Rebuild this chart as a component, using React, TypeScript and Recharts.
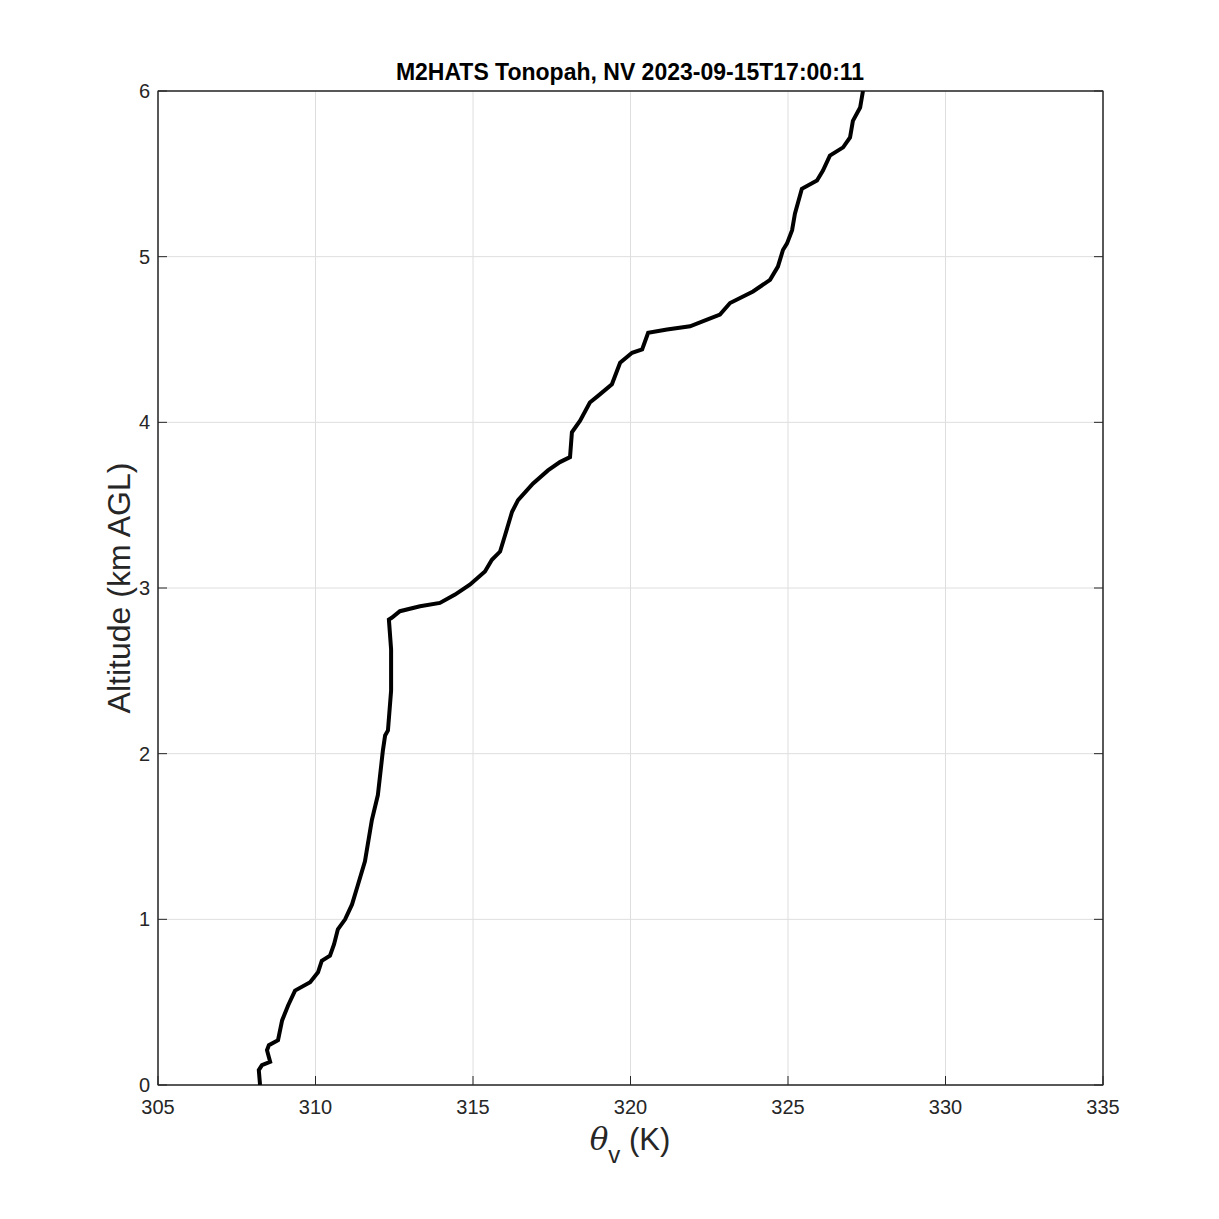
import React from "react";
import {
  ScatterChart,
  Scatter,
  XAxis,
  YAxis,
  CartesianGrid,
  Customized,
} from "recharts";

const thetaV = [
  308.24, 308.2, 308.3, 308.56, 308.46, 308.52, 308.81, 308.94, 309.13, 309.35,
  309.83, 310.08, 310.2, 310.46, 310.59, 310.71, 310.94, 311.16, 311.35, 311.57,
  311.79, 311.98, 312.14, 312.21, 312.3, 312.4, 312.4, 312.33, 312.42, 312.68,
  313.32, 313.95, 314.43, 314.9, 315.38, 315.6, 315.86, 316.02, 316.24, 316.43,
  316.9, 317.38, 317.76, 318.08, 318.14, 318.4, 318.71, 318.97, 319.41, 319.67,
  320.05, 320.37, 320.56, 321.16, 321.89, 322.43, 322.84, 323.16, 323.89, 324.43,
  324.68, 324.84, 324.97, 325.13, 325.22, 325.44, 325.92, 326.11, 326.33, 326.75,
  326.97, 327.06, 327.29, 327.38,
];
const altitudeKm = [
  0.0, 0.09, 0.12, 0.14, 0.21, 0.24, 0.27, 0.39, 0.48, 0.57,
  0.62, 0.68, 0.75, 0.78, 0.85, 0.94, 1.0, 1.09, 1.21, 1.35,
  1.6, 1.75, 2.02, 2.11, 2.14, 2.38, 2.63, 2.81, 2.82, 2.86,
  2.89, 2.91, 2.96, 3.02, 3.1, 3.17, 3.22, 3.32, 3.46, 3.53,
  3.63, 3.71, 3.76, 3.79, 3.94, 4.01, 4.12, 4.16, 4.23, 4.36,
  4.42, 4.44, 4.54, 4.56, 4.58, 4.62, 4.65, 4.72, 4.79, 4.86,
  4.94, 5.04, 5.08, 5.16, 5.26, 5.41, 5.46, 5.52, 5.61, 5.66,
  5.72, 5.82, 5.9, 6.0,
];
const xTicks = [305, 310, 315, 320, 325, 330, 335];
const yTicks = [0, 1, 2, 3, 4, 5, 6];
const titleText = "M2HATS Tonopah, NV 2023-09-15T17:00:11";
const yLabelText = "Altitude (km AGL)";

const data = thetaV.map((t, i) => ({ theta: t, alt: altitudeKm[i] }));

const FONT = "'Liberation Sans', Arial, Helvetica, sans-serif";
const AX = "#262626";
const TICK_LEN = 9;

const BottomTick = (props: any) => {
  const { x, y, payload } = props;
  return (
    <g>
      <line x1={x} y1={y} x2={x} y2={y - TICK_LEN} stroke={AX} strokeWidth={1} />
      <text x={x} y={y + 29} textAnchor="middle" fill={AX} fontSize={20} fontFamily={FONT}>
        {payload.value}
      </text>
    </g>
  );
};
const TopTick = (props: any) => {
  const { x, y } = props;
  return <line x1={x} y1={y} x2={x} y2={y + TICK_LEN} stroke={AX} strokeWidth={1} />;
};
const LeftTick = (props: any) => {
  const { x, y, payload } = props;
  return (
    <g>
      <line x1={x} y1={y} x2={x + TICK_LEN} y2={y} stroke={AX} strokeWidth={1} />
      <text x={x - 8} y={y + 7} textAnchor="end" fill={AX} fontSize={20} fontFamily={FONT}>
        {payload.value}
      </text>
    </g>
  );
};
const RightTick = (props: any) => {
  const { x, y } = props;
  return <line x1={x} y1={y} x2={x - TICK_LEN} y2={y} stroke={AX} strokeWidth={1} />;
};

const Labels = () => (
  <g>
    <rect x={158} y={91} width={945} height={994} fill="none" stroke={AX} strokeWidth={1} />
    <text x={630} y={80} textAnchor="middle" fontWeight="bold" fontSize={23} fill="#000" fontFamily={FONT}>
      {titleText}
    </text>
    <text
      x={130}
      y={588}
      textAnchor="middle"
      fontSize={32}
      fill={AX}
      fontFamily={FONT}
      transform="rotate(-90, 130, 588)"
    >
      {yLabelText}
    </text>
    <text x={630} y={1150} textAnchor="middle" fontSize={31} fill={AX} fontFamily={FONT}>
      <tspan fontFamily="'DejaVu Serif', serif" fontStyle="italic">θ</tspan>
      <tspan fontSize={24} dy={13}>v</tspan>
      <tspan dy={-13}> (K)</tspan>
    </text>
  </g>
);

const NoDot = () => null;

export default function App() {
  return (
    <div style={{ position: "absolute", left: 0, top: 0, background: "#fff" }}>
      <ScatterChart
        width={1219}
        height={1219}
        margin={{ top: 90, right: 115, bottom: 74, left: 0 }}
      >
        <CartesianGrid stroke="#dedede" strokeWidth={1} />
        <XAxis
          xAxisId={0}
          type="number"
          dataKey="theta"
          domain={[305, 335]}
          ticks={xTicks}
          interval={0}
          height={60}
          axisLine={{ stroke: AX }}
          tickLine={false}
          tickSize={0}
          tickMargin={0}
          tick={<BottomTick />}
          allowDataOverflow
        />
        <XAxis
          xAxisId="top"
          orientation="top"
          type="number"
          domain={[305, 335]}
          ticks={xTicks}
          interval={0}
          height={1}
          axisLine={{ stroke: AX }}
          tickLine={false}
          tickSize={0}
          tickMargin={0}
          tick={<TopTick />}
          allowDataOverflow
        />
        <YAxis
          yAxisId={0}
          type="number"
          dataKey="alt"
          domain={[0, 6]}
          ticks={yTicks}
          interval={0}
          width={158}
          axisLine={{ stroke: AX }}
          tickLine={false}
          tickSize={0}
          tickMargin={0}
          tick={<LeftTick />}
          allowDataOverflow
        />
        <YAxis
          yAxisId="right"
          orientation="right"
          type="number"
          domain={[0, 6]}
          ticks={yTicks}
          interval={0}
          width={1}
          axisLine={{ stroke: AX }}
          tickLine={false}
          tickSize={0}
          tickMargin={0}
          tick={<RightTick />}
          allowDataOverflow
        />
        <Scatter
          xAxisId={0}
          yAxisId={0}
          data={data}
          fill="#000"
          shape={<NoDot />}
          line={{ stroke: "#000", strokeWidth: 4 }}
          lineJointType="linear"
          isAnimationActive={false}
        />
        <Customized component={Labels} />
      </ScatterChart>
    </div>
  );
}
